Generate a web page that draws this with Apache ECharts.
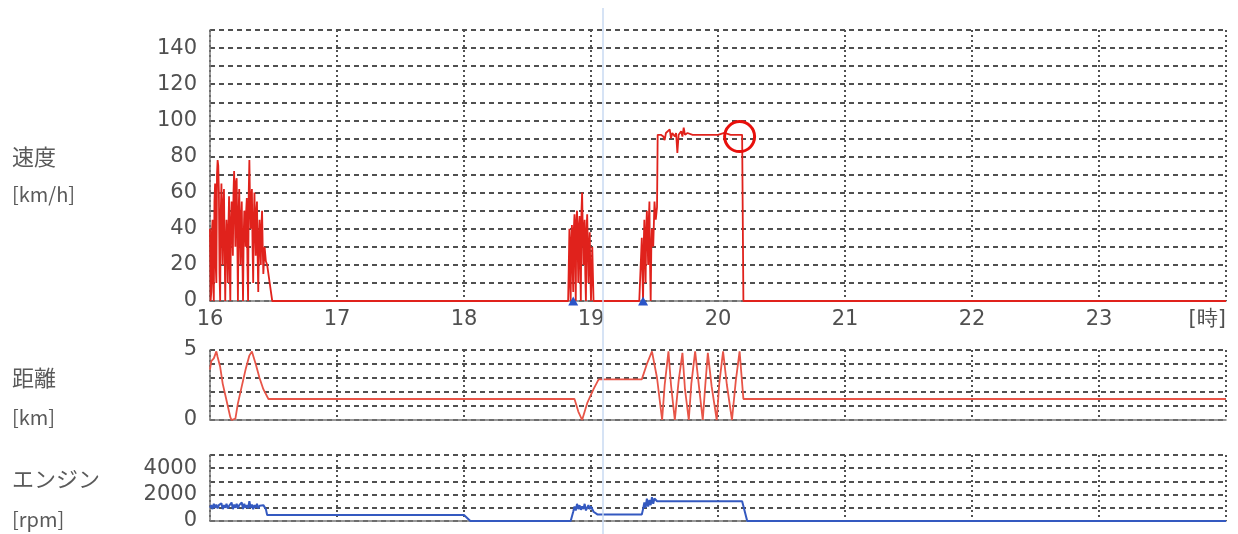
<!DOCTYPE html>
<html><head><meta charset="utf-8">
<script src="https://cdn.jsdelivr.net/npm/echarts@6/dist/echarts.min.js"></script>
<style>html,body{margin:0;padding:0;background:#fff}#c{width:1238px;height:534px}</style>
</head><body><div id="c"></div>
<script>
// ---- data ----
const hourTicks = [16,17,18,19,20,21,22,23,24];
const hourUnitLabel = '[時]';
const speedTicks = [0,20,40,60,80,100,120,140];
const distTicks = [0,5];
const rpmTicks = [0,2000,4000];

const speed = [
 [16.00,40],[16.005,0],[16.01,5],[16.015,38],[16.02,45],[16.025,10],[16.03,0],[16.035,55],[16.04,65],[16.045,20],[16.05,10],[16.055,70],[16.06,78],[16.065,75],[16.07,60],[16.075,15],[16.08,0],[16.085,50],[16.09,65],
 [16.095,40],[16.10,20],[16.105,55],[16.11,62],[16.115,30],[16.12,0],[16.125,30],[16.13,45],[16.135,35],[16.14,10],[16.145,40],[16.15,58],[16.155,20],[16.16,0],[16.165,45],[16.17,55],[16.175,40],[16.18,25],[16.185,60],[16.19,72],
 [16.195,50],[16.20,30],[16.205,66],[16.21,68],[16.215,35],[16.22,0],[16.225,48],[16.23,62],[16.235,40],[16.24,20],[16.245,45],[16.25,55],[16.255,25],[16.26,0],[16.265,35],[16.27,50],[16.275,45],[16.28,30],[16.285,50],[16.29,57],
 [16.295,20],[16.30,0],[16.305,60],[16.31,78],[16.315,55],[16.32,40],[16.325,58],[16.33,62],[16.335,30],[16.34,10],[16.345,45],[16.35,60],[16.355,40],[16.36,25],[16.365,50],[16.37,55],[16.375,25],[16.38,5],[16.385,35],[16.39,45],
 [16.395,30],[16.40,20],[16.405,42],[16.41,50],[16.415,30],[16.42,15],[16.43,30],[16.44,22],[16.45,20],[16.49,0],
 [18.82,0],[18.83,40],[18.835,10],[18.84,0],[18.845,35],[18.85,42],[18.855,20],[18.86,5],[18.865,40],[18.87,48],[18.875,25],[18.88,0],[18.885,45],[18.89,50],[18.895,30],[18.90,10],[18.905,42],[18.91,47],
 [18.915,20],[18.92,0],[18.925,50],[18.93,60],[18.935,40],[18.94,20],[18.945,40],[18.95,45],[18.955,15],[18.96,0],[18.965,40],[18.97,48],[18.975,30],[18.98,10],[18.985,30],[18.99,38],[18.995,15],[19.00,0],[19.01,30],[19.02,0],
 [19.38,0],[19.40,35],[19.405,15],[19.41,0],[19.415,30],[19.42,45],[19.425,25],[19.43,10],[19.435,40],[19.44,50],[19.445,35],[19.45,20],[19.455,45],[19.46,55],[19.465,20],[19.47,0],[19.475,30],[19.48,40],
 [19.49,30],[19.50,55],[19.51,45],[19.52,52],[19.525,92],[19.55,92],[19.57,91],[19.58,89],[19.59,93],[19.60,92],
 [19.62,95],[19.63,90],[19.64,93],[19.66,91],[19.67,93],[19.68,82],[19.69,92],[19.71,94],[19.72,91],[19.73,96],
 [19.74,92],[19.76,93],[19.80,92],[19.90,92],[20.00,92],[20.05,93],[20.10,92],[20.19,92],[20.20,0],[24,0]
];

const distance = [
 [16.00,3.6],[16.01,4.2],[16.03,4.4],[16.05,4.9],[16.06,4.5],[16.08,3.8],[16.10,2.6],[16.12,1.8],[16.14,1.0],
 [16.16,0.2],[16.17,0],[16.20,0.1],[16.22,1.2],[16.25,2.4],[16.28,3.6],[16.31,4.6],[16.33,4.9],[16.36,4.0],
 [16.39,3.0],[16.42,2.2],[16.46,1.5],[18.87,1.5],[18.90,0.6],[18.93,0],[18.97,1.2],[19.02,2.2],[19.06,2.9],
 [19.40,2.9],[19.44,4.0],[19.48,4.9],[19.52,3.0],[19.56,0],[19.58,2.5],[19.61,4.9],[19.63,2.5],[19.66,0],
 [19.69,2.8],[19.72,4.8],[19.74,2.2],[19.77,0],[19.79,2.6],[19.82,4.9],[19.85,2.4],[19.88,0],[19.90,2.5],
 [19.92,4.8],[19.95,2.4],[19.99,0],[20.01,2.6],[20.04,4.9],[20.07,2.5],[20.11,0],[20.14,2.8],[20.17,4.9],
 [20.20,1.5],[24,1.5]
];

const rpm = [
 [16.00,1000],[16.01,1200],[16.02,900],[16.03,1300],[16.04,1000],[16.05,1250],[16.06,950],[16.07,1200],[16.08,1100],
 [16.09,1350],[16.10,900],[16.11,1200],[16.12,1000],[16.13,1300],[16.14,950],[16.15,1150],[16.16,1050],[16.17,1400],
 [16.18,900],[16.19,1250],[16.20,1000],[16.21,1300],[16.22,950],[16.23,1200],[16.24,1100],[16.25,1400],[16.26,900],
 [16.27,1300],[16.28,1000],[16.29,1200],[16.30,950],[16.31,1500],[16.32,1000],[16.33,1250],[16.34,900],[16.35,1200],
 [16.36,1000],[16.37,1300],[16.38,950],[16.39,1150],[16.40,1000],[16.42,1200],[16.44,900],[16.45,450],
 [18.00,450],[18.05,0],[18.84,0],[18.86,700],[18.87,1100],[18.88,800],[18.89,1300],[18.90,900],[18.91,1200],
 [18.92,850],[18.93,1100],[18.94,900],[18.95,1300],[18.96,800],[18.97,1000],[18.98,1200],[18.99,900],[19.00,1100],
 [19.02,700],[19.05,500],[19.40,500],[19.41,900],[19.42,1400],[19.43,1000],[19.44,1700],[19.45,1100],[19.46,1600],
 [19.47,1200],[19.48,1800],[19.49,1300],[19.50,1700],[19.52,1500],[20.19,1500],[20.23,0],[24,0]
];

const triangleMarks = [[18.86,0],[19.41,0]];
const circleMark = [20.17,91];
const cursorHour = 19.09;

// ---- chart ----
const GRID_L = 210, GRID_R = 12;
const dashed = {show:true, lineStyle:{color:'#505050', width:1.8, type:[5,4]}};
const dotted = {show:true, lineStyle:{color:'#505050', width:2, type:[2,3]}};
const tickFont = {color:'#505050', fontSize:21, fontFamily:'DejaVu Sans'};

function xAxisFor(gi, showLabels){
  return {type:'value', gridIndex:gi, min:16, max:24, interval:1,
    axisLine:{show:true, lineStyle:{color:'#777', width:1.5}},
    axisTick:{show:false},
    splitLine: dotted,
    axisLabel:{show:showLabels, margin:8, ...tickFont, alignMaxLabel:'right',
      formatter: v => v === 24 ? hourUnitLabel : (hourTicks.includes(v) ? String(v) : '')}
  };
}
function yAxisFor(gi, max, interval, ticks){
  return {type:'value', gridIndex:gi, min:0, max:max, interval:interval,
    axisLine:{show:true, lineStyle:{color:'#777', width:1.5}},
    axisTick:{show:false},
    splitLine: dashed,
    axisLabel:{margin:13, ...tickFont, formatter: v => ticks.includes(v) ? String(v) : ''}
  };
}

const labelStyle = (txt, y, size) => ({type:'text', left:12, top:y, style:{text:txt, fill:'#5a5a5a', fontSize:size, fontFamily:'Noto Sans CJK JP, DejaVu Sans'}});

const option = {
  animation:false,
  backgroundColor:'#fff',
  grid:[
    {left:GRID_L, right:GRID_R, top:30, height:271},
    {left:GRID_L, right:GRID_R, top:350, height:70},
    {left:GRID_L, right:GRID_R, top:455, height:66},
    {left:GRID_L, right:GRID_R, top:8, bottom:0}
  ],
  xAxis:[ xAxisFor(0,true), xAxisFor(1,false), xAxisFor(2,false),
    {type:'value', gridIndex:3, min:16, max:24, show:false} ],
  yAxis:[ yAxisFor(0,150,10,speedTicks), yAxisFor(1,5,1,distTicks), yAxisFor(2,5000,1000,rpmTicks),
    {type:'value', gridIndex:3, min:0, max:1, show:false} ],
  graphic:[
    labelStyle('速度', 146, 22),
    labelStyle('[km/h]', 184, 20),
    labelStyle('距離', 367, 22),
    labelStyle('[km]', 407, 20),
    labelStyle('エンジン', 468, 22),
    labelStyle('[rpm]', 509, 20)
  ],
  series:[
    {type:'line', xAxisIndex:3, yAxisIndex:3, data:[[cursorHour,-1]], symbol:'none', silent:true, z:1,
     markLine:{silent:true, symbol:'none', label:{show:false},
       lineStyle:{color:'#c8daf2', width:1.5, type:'solid'}, data:[{xAxis:cursorHour}]}},
    {type:'line', xAxisIndex:0, yAxisIndex:0, data:speed, symbol:'none', z:3,
     lineStyle:{color:'#e0221c', width:1.8},
     markPoint:{silent:true, label:{show:false}, data:[
       ...triangleMarks.map(p => ({coord:p, symbol:'triangle', symbolSize:[10,9], itemStyle:{color:'#2a55c8'}})),
       {coord:circleMark, symbol:'circle', symbolSize:30, itemStyle:{color:'rgba(0,0,0,0)', borderColor:'#e8100c', borderWidth:3}}
     ]}},
    {type:'line', xAxisIndex:1, yAxisIndex:1, data:distance, symbol:'none', z:3,
     lineStyle:{color:'#e85548', width:1.8}},
    {type:'line', xAxisIndex:2, yAxisIndex:2, data:rpm, symbol:'none', z:3,
     lineStyle:{color:'#3459c0', width:2}}
  ]
};
echarts.init(document.getElementById('c')).setOption(option);
</script></body></html>
